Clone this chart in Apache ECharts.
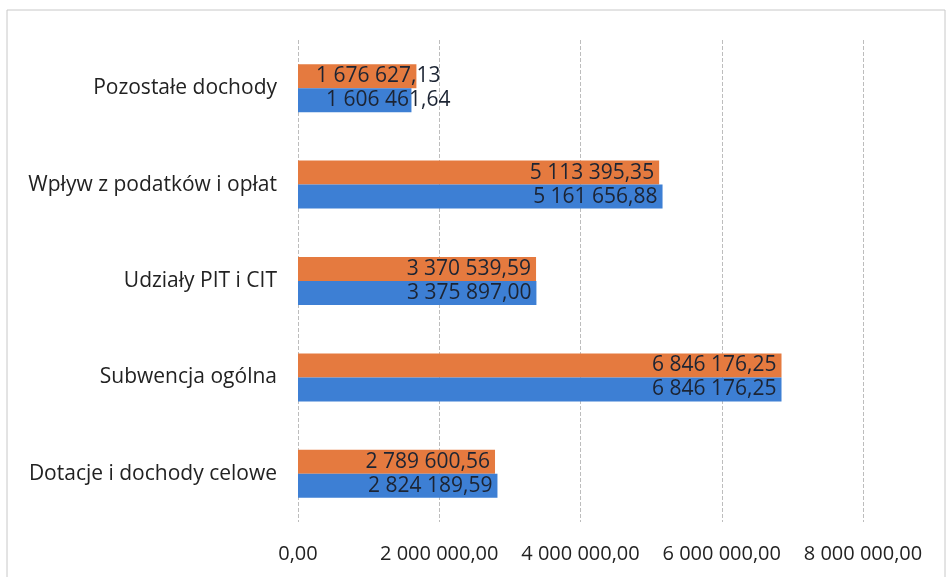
<!DOCTYPE html>
<html><head><meta charset="utf-8">
<script src="https://cdn.jsdelivr.net/npm/echarts@6/dist/echarts.min.js"></script>
<style>html,body{margin:0;padding:0;background:#fff}#c{width:947px;height:577px}</style>
</head><body><div id="c"></div>
<script>
const categories = ['Dotacje i dochody celowe','Subwencja ogólna','Udziały PIT i CIT','Wpływ z podatków i opłat','Pozostałe dochody'];
const seriesBlue = [2824189.59, 6846176.25, 3375897.00, 5161656.88, 1606461.64];
const seriesOrange = [2789600.56, 6846176.25, 3370539.59, 5113395.35, 1676627.13];
const xTicks = [0, 2000000, 4000000, 6000000, 8000000];

function fmt(v){
  const s = Number(v).toFixed(2);
  const [i,d] = s.split('.');
  return i.replace(/\B(?=(\d{3})+(?!\d))/g,' ') + ',' + d;
}
const FONT = 'Open Sans';
function mkData(arr, offBig, offSmallDist){
  return arr.map((v,idx)=>{
    if (idx === 4) return {value:v, label:{position:'insideLeft', distance:offSmallDist}};
    return {value:v, label:{offset:[offBig,0]}};
  });
}
const chart = echarts.init(document.getElementById('c'));
chart.setOption({
  animation:false,
  graphic:[{type:'rect',shape:{x:7,y:10,width:938,height:600},style:{fill:'none',stroke:'#c8c8c8',lineWidth:1}}],
  grid:{left:298,right:84,top:40,bottom:55},
  xAxis:{type:'value',min:xTicks[0],max:xTicks[xTicks.length-1],interval:2000000,
    axisLine:{show:false},axisTick:{show:false},
    splitLine:{show:true,lineStyle:{color:'#bdbdbd',type:'dashed',width:1}},
    axisLabel:{formatter:v=>fmt(v),fontFamily:FONT,fontSize:20,color:'#222',margin:22}},
  yAxis:{type:'category',data:categories,axisLine:{show:false},axisTick:{show:false},
    axisLabel:{fontFamily:FONT,fontSize:21,color:'#222',margin:21}},
  series:[
    {type:'bar',name:'O',data:mkData(seriesOrange,0,18),barWidth:24,barGap:'0%',
     itemStyle:{color:'#e57a3f'},
     label:{show:true,position:'insideRight',formatter:p=>fmt(p.value),fontFamily:FONT,fontSize:21,color:'#1c2433'}},
    {type:'bar',name:'B',data:mkData(seriesBlue,0,28),barWidth:24,barGap:'0%',
     itemStyle:{color:'#3d7fd4'},
     label:{show:true,position:'insideRight',formatter:p=>fmt(p.value),fontFamily:FONT,fontSize:21,color:'#1c2433'}}
  ]
});
</script></body></html>
